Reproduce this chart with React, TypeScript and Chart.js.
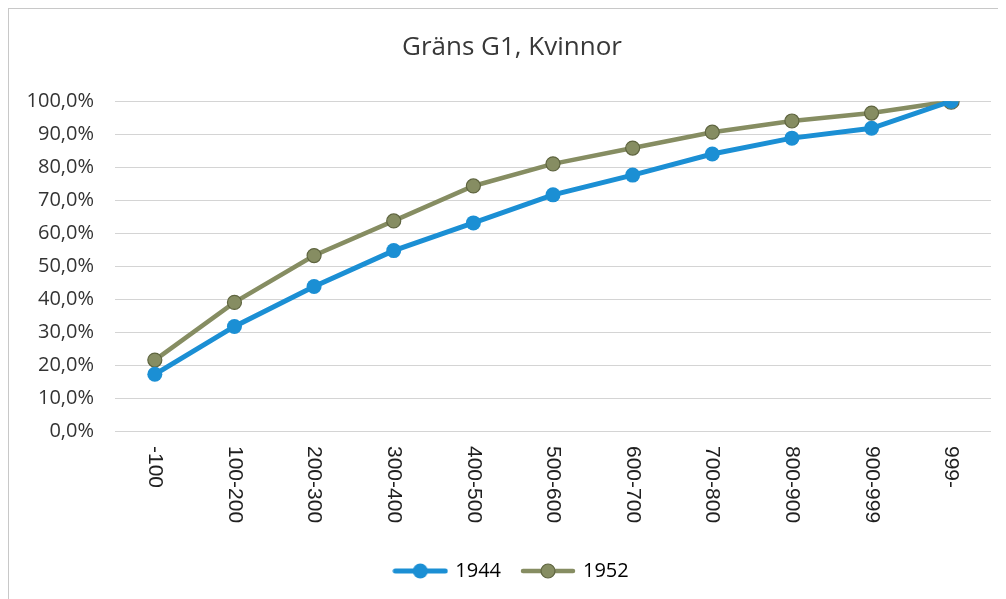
import React, { useEffect, useRef } from "react";
import { Chart, registerables } from "chart.js";

Chart.register(...registerables);

const categories = ["-100", "100-200", "200-300", "300-400", "400-500", "500-600", "600-700", "700-800", "800-900", "900-999", "999-"];
const series1944 = [17.2, 31.7, 43.8, 54.7, 63.1, 71.6, 77.6, 84.0, 88.8, 91.8, 100.0];
const series1952 = [21.5, 39.0, 53.2, 63.7, 74.3, 81.0, 85.8, 90.6, 94.0, 96.4, 100.0];
const chartTitle = "Gräns G1, Kvinnor";

const BLUE = "#1b8fd4";
const GREEN = "#868d62";
const GREEN_DARK = "#5f6540";

function legendImage(color: string, border: string | null, lw: number, r: number) {
  const c = document.createElement("canvas");
  c.width = 56;
  c.height = 18;
  const ctx = c.getContext("2d")!;
  ctx.strokeStyle = color;
  ctx.lineWidth = lw;
  ctx.lineCap = "round";
  ctx.beginPath();
  ctx.moveTo(3, 9);
  ctx.lineTo(53, 9);
  ctx.stroke();
  ctx.beginPath();
  ctx.arc(28, 9, r, 0, Math.PI * 2);
  ctx.fillStyle = color;
  ctx.fill();
  if (border) {
    ctx.strokeStyle = border;
    ctx.lineWidth = 1.2;
    ctx.stroke();
  }
  return c;
}

const xLabelPlugin = {
  id: "xLabelsRot",
  afterDraw(chart: any) {
    const xs = chart.scales.x;
    const ctx = chart.ctx;
    ctx.save();
    ctx.fillStyle = "#1f1f1f";
    ctx.font = "21px 'Liberation Sans', Arial, sans-serif";
    ctx.textAlign = "left";
    ctx.textBaseline = "middle";
    categories.forEach((lab, i) => {
      const x = xs.getPixelForTick(i);
      const y = xs.top + 15;
      ctx.save();
      ctx.translate(x, y);
      ctx.rotate(Math.PI / 2);
      ctx.fillText(lab, 0, 0);
      ctx.restore();
    });
    ctx.restore();
  },
};

// shift title and legend blocks to be centred like the reference (whole frame centre)
const centreShiftPlugin = {
  id: "centreShift",
  beforeDraw(chart: any) {
    const shift = 24;
    [chart.titleBlock, chart.legend].forEach((b: any) => {
      if (b && !b._shifted) {
        b.left += shift;
        b._shifted = true;
      }
    });
  },
};

export default function App() {
  const ref = useRef<HTMLCanvasElement>(null);
  useEffect(() => {
    if (!ref.current) return;
    const img1 = legendImage(BLUE, null, 5, 7.5);
    const img2 = legendImage(GREEN, GREEN_DARK, 4.5, 7);
    const chart = new Chart(ref.current, {
      type: "line",
      data: {
        labels: categories,
        datasets: [
          {
            label: "1944",
            data: series1944,
            borderColor: BLUE,
            backgroundColor: BLUE,
            borderWidth: 5,
            pointRadius: 7.5,
            pointBackgroundColor: BLUE,
            pointBorderColor: BLUE,
            pointBorderWidth: 0,
            tension: 0,
          },
          {
            label: "1952",
            data: series1952,
            borderColor: GREEN,
            backgroundColor: GREEN,
            borderWidth: 4.5,
            pointRadius: [7, 7, 7, 7, 7, 7, 7, 7, 7, 7, 8],
            pointBackgroundColor: GREEN,
            pointBorderColor: GREEN_DARK,
            pointBorderWidth: 1.2,
            tension: 0,
          },
        ],
      },
      options: {
        animation: false,
        responsive: false,
        maintainAspectRatio: false,
        layout: { padding: { left: 0, right: 15, top: 0, bottom: 8 } },
        plugins: {
          title: {
            display: true,
            text: chartTitle,
            color: "#383838",
            font: { family: "'Open Sans', sans-serif", size: 26, weight: "normal" },
            padding: { top: 23, bottom: 38 },
          },
          legend: {
            position: "bottom",
            labels: {
              color: "#262626",
              font: { family: "'Open Sans', sans-serif", size: 20 },
              usePointStyle: true,
              pointStyleWidth: 50,
              padding: 22,
              generateLabels: () => [
                { text: "1944", pointStyle: img1, fillStyle: BLUE, strokeStyle: BLUE, lineWidth: 0, hidden: false, datasetIndex: 0 } as any,
                { text: "1952", pointStyle: img2, fillStyle: GREEN, strokeStyle: GREEN, lineWidth: 0, hidden: false, datasetIndex: 1 } as any,
              ],
            },
          },
          tooltip: { enabled: false },
        },
        scales: {
          x: {
            offset: true,
            grid: { display: false, drawTicks: false },
            border: { display: false },
            ticks: { display: false },
            afterFit: (s: any) => {
              s.height = 108;
            },
          },
          y: {
            min: 0,
            max: 100,
            grid: { color: "#d4d4d4", lineWidth: 1, drawTicks: false },
            border: { display: false },
            ticks: {
              stepSize: 10,
              padding: 21,
              color: "#333333",
              font: { family: "'Open Sans', sans-serif", size: 20 },
              callback: (v: any) => Number(v).toFixed(1).replace(".", ",") + "%",
            },
            afterFit: (s: any) => {
              s.width = 106;
            },
          },
        },
      },
      plugins: [xLabelPlugin, centreShiftPlugin],
    });
    return () => chart.destroy();
  }, []);
  return (
    <div style={{ width: 998, height: 591, borderTop: "1px solid #c8c8c8", borderLeft: "1px solid #c8c8c8", background: "#fff" }}>
      <canvas ref={ref} width={997} height={590} style={{ display: "block" }} />
    </div>
  );
}
